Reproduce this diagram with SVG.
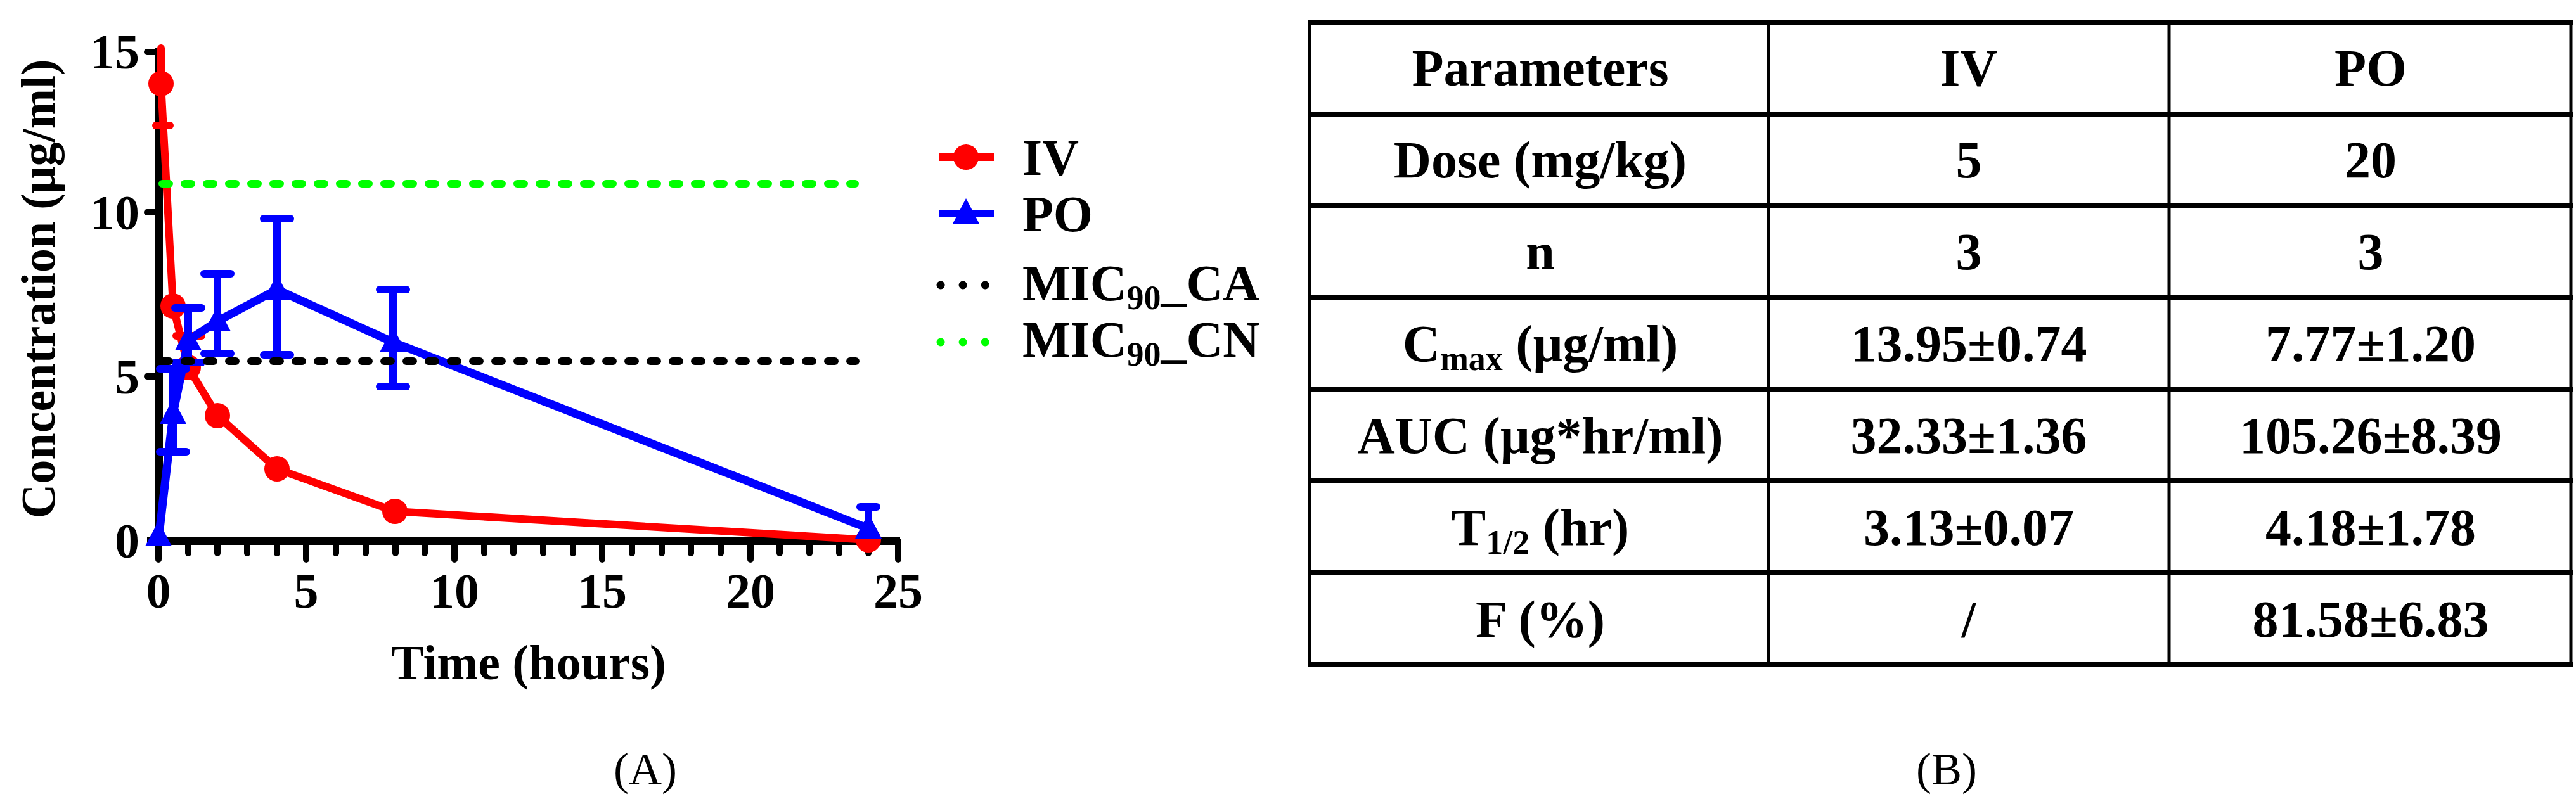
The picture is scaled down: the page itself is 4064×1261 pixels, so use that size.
<svg xmlns="http://www.w3.org/2000/svg" width="4064" height="1261" viewBox="0 0 4064 1261">
<style>
text{font-family:"Liberation Serif","Times New Roman",serif;fill:#000}
.b{font-weight:bold}
.tk{font-size:78px;font-weight:bold;text-anchor:middle}
.yt{font-size:78px;font-weight:bold;text-anchor:end}
.tb{font-size:82px;font-weight:bold;text-anchor:middle}
.lg{font-size:80px;font-weight:bold}
.iv{stroke:#ff0000;stroke-width:12;fill:none;stroke-linejoin:round}
.po{stroke:#0000ff;stroke-width:13;fill:none;stroke-linejoin:round}
.ecr{stroke:#ff0000;stroke-width:12;stroke-linecap:round}
.ecb{stroke:#0000ff;stroke-width:12;stroke-linecap:round}
.ax{stroke:#000;stroke-width:12;fill:none}
.tick{stroke:#000;stroke-width:10;stroke-linecap:round}
.hl{stroke:#000;stroke-width:8}
.vl{stroke:#000;stroke-width:5}
</style>
<defs>
<circle id="c" r="20" fill="#ff0000"/>
<path id="t" d="M0,-24 L21,16 L-21,16 Z" fill="#0000ff"/>
</defs>

<g id="chart">
<g id="axes">
<line class="ax" x1="251" y1="76" x2="251" y2="860"/>
<line class="ax" x1="232" y1="854" x2="1420" y2="854"/>
<g class="tick">
<line x1="232" y1="82" x2="251" y2="82"/><line x1="232" y1="335" x2="251" y2="335"/>
<line x1="232" y1="594" x2="251" y2="594"/>
<line x1="250" y1="854" x2="250" y2="883"/><line x1="297" y1="854" x2="297" y2="873"/><line x1="343" y1="854" x2="343" y2="873"/><line x1="390" y1="854" x2="390" y2="873"/><line x1="437" y1="854" x2="437" y2="873"/>
<line x1="483" y1="854" x2="483" y2="883"/><line x1="530" y1="854" x2="530" y2="873"/><line x1="577" y1="854" x2="577" y2="873"/><line x1="624" y1="854" x2="624" y2="873"/><line x1="670" y1="854" x2="670" y2="873"/>
<line x1="717" y1="854" x2="717" y2="883"/><line x1="764" y1="854" x2="764" y2="873"/><line x1="810" y1="854" x2="810" y2="873"/><line x1="857" y1="854" x2="857" y2="873"/><line x1="904" y1="854" x2="904" y2="873"/>
<line x1="950" y1="854" x2="950" y2="883"/><line x1="997" y1="854" x2="997" y2="873"/><line x1="1044" y1="854" x2="1044" y2="873"/><line x1="1090" y1="854" x2="1090" y2="873"/><line x1="1137" y1="854" x2="1137" y2="873"/>
<line x1="1184" y1="854" x2="1184" y2="883"/><line x1="1230" y1="854" x2="1230" y2="873"/><line x1="1277" y1="854" x2="1277" y2="873"/><line x1="1324" y1="854" x2="1324" y2="873"/><line x1="1370" y1="854" x2="1370" y2="873"/>
<line x1="1417" y1="854" x2="1417" y2="883"/>
</g>
<text class="yt" x="220" y="108">15</text>
<text class="yt" x="220" y="362">10</text>
<text class="yt" x="220" y="621">5</text>
<text class="yt" x="220" y="880">0</text>
<text class="tk" x="250" y="959">0</text>
<text class="tk" x="483" y="959">5</text>
<text class="tk" x="717" y="959">10</text>
<text class="tk" x="950" y="959">15</text>
<text class="tk" x="1184" y="959">20</text>
<text class="tk" x="1417" y="959">25</text>
<text class="b" x="834" y="1072" font-size="78" text-anchor="middle">Time (hours)</text>
<text class="b" transform="translate(86,456) rotate(-90)" font-size="76" text-anchor="middle">Concentration (μg/ml)</text>
</g>

<g id="series-iv">
<line class="ecr" x1="254" y1="76" x2="254" y2="132"/>
<line class="ecr" x1="246" y1="198" x2="268" y2="198"/>
<line class="ecr" x1="278" y1="530" x2="318" y2="530"/>
<polyline class="iv" points="254,76 254,132 273,483 297,580 343,656 437,740 623,807 1370,852"/>
<use href="#c" x="254" y="132"/><use href="#c" x="273" y="483"/><use href="#c" x="297" y="580"/>
<use href="#c" x="343" y="656"/><use href="#c" x="437" y="740"/><use href="#c" x="623" y="807"/><use href="#c" x="1370" y="852"/>
</g>

<g id="series-po">
<g class="ecb">
<line x1="273" y1="713" x2="273" y2="582"/><line x1="252" y1="713" x2="294" y2="713"/><line x1="252" y1="582" x2="294" y2="582"/>
<line x1="297" y1="572" x2="297" y2="486"/><line x1="276" y1="572" x2="318" y2="572"/><line x1="276" y1="486" x2="318" y2="486"/>
<line x1="343" y1="558" x2="343" y2="432"/><line x1="322" y1="558" x2="364" y2="558"/><line x1="322" y1="432" x2="364" y2="432"/>
<line x1="437" y1="560" x2="437" y2="345"/><line x1="416" y1="560" x2="458" y2="560"/><line x1="416" y1="345" x2="458" y2="345"/>
<line x1="620" y1="610" x2="620" y2="457"/><line x1="599" y1="610" x2="641" y2="610"/><line x1="599" y1="457" x2="641" y2="457"/>
<line x1="1370" y1="834" x2="1370" y2="800"/><line x1="1357" y1="800" x2="1383" y2="800"/>
</g>
<polyline class="po" points="250,852 273,653 297,537 343,507 437,457 620,540 1370,834"/>
<use href="#t" x="250" y="846"/><use href="#t" x="273" y="653"/><use href="#t" x="297" y="537"/><use href="#t" x="343" y="507"/>
<use href="#t" x="437" y="457"/><use href="#t" x="620" y="540"/><use href="#t" x="1370" y="834"/>
</g>

<g id="mic-lines">
<line x1="256" y1="290" x2="1349" y2="290" stroke="#00ff00" stroke-width="12" stroke-linecap="round" stroke-dasharray="11 24"/>
<line x1="256" y1="570" x2="1350" y2="570" stroke="#000" stroke-width="12" stroke-linecap="round" stroke-dasharray="11 24"/>
</g>

<g id="legend">
<line x1="1481" y1="248" x2="1568" y2="248" stroke="#ff0000" stroke-width="12"/>
<use href="#c" x="1524" y="248"/>
<text class="lg" x="1613" y="276">IV</text>
<line x1="1481" y1="337" x2="1568" y2="337" stroke="#0000ff" stroke-width="12"/>
<use href="#t" x="1524" y="337"/>
<text class="lg" x="1613" y="365">PO</text>
<line x1="1484" y1="450" x2="1560" y2="450" stroke="#000" stroke-width="13" stroke-linecap="round" stroke-dasharray="0.1 35"/>
<text class="lg" x="1613" y="474">MIC<tspan font-size="54" dy="14">90</tspan><tspan dy="-14">_CA</tspan></text>
<line x1="1484" y1="540" x2="1560" y2="540" stroke="#00ff00" stroke-width="13" stroke-linecap="round" stroke-dasharray="0.1 35"/>
<text class="lg" x="1613" y="563">MIC<tspan font-size="54" dy="14">90</tspan><tspan dy="-14">_CN</tspan></text>
</g>
<text x="1018" y="1238" font-size="72" text-anchor="middle">(A)</text>
</g>

<g id="table">
<g class="hl">
<line x1="2064" y1="35" x2="4059" y2="35"/><line x1="2064" y1="180" x2="4059" y2="180"/>
<line x1="2064" y1="325" x2="4059" y2="325"/><line x1="2064" y1="470" x2="4059" y2="470"/>
<line x1="2064" y1="614" x2="4059" y2="614"/><line x1="2064" y1="759" x2="4059" y2="759"/>
<line x1="2064" y1="904" x2="4059" y2="904"/><line x1="2064" y1="1049" x2="4059" y2="1049"/>
</g>
<g class="vl">
<line x1="2066" y1="35" x2="2066" y2="1049"/><line x1="2790" y1="35" x2="2790" y2="1049"/>
<line x1="3422" y1="35" x2="3422" y2="1049"/><line x1="4056" y1="35" x2="4056" y2="1049"/>
</g>
<text class="tb" x="2430" y="135">Parameters</text><text class="tb" x="3106" y="135">IV</text><text class="tb" x="3740" y="135">PO</text>
<text class="tb" x="2430" y="280">Dose (mg/kg)</text><text class="tb" x="3106" y="280">5</text><text class="tb" x="3740" y="280">20</text>
<text class="tb" x="2430" y="425">n</text><text class="tb" x="3106" y="425">3</text><text class="tb" x="3740" y="425">3</text>
<text class="tb" x="2430" y="570">C<tspan font-size="54" dy="14">max</tspan><tspan dy="-14"> (μg/ml)</tspan></text><text class="tb" x="3106" y="570">13.95±0.74</text><text class="tb" x="3740" y="570">7.77±1.20</text>
<text class="tb" x="2430" y="715">AUC (μg*hr/ml)</text><text class="tb" x="3106" y="715">32.33±1.36</text><text class="tb" x="3740" y="715">105.26±8.39</text>
<text class="tb" x="2430" y="860">T<tspan font-size="54" dy="14">1/2</tspan><tspan dy="-14">  (hr)</tspan></text><text class="tb" x="3106" y="860">3.13±0.07</text><text class="tb" x="3740" y="860">4.18±1.78</text>
<text class="tb" x="2430" y="1005">F (%)</text><text class="tb" x="3106" y="1005">/</text><text class="tb" x="3740" y="1005">81.58±6.83</text>
<text x="3071" y="1238" font-size="72" text-anchor="middle">(B)</text>
</g>
</svg>
